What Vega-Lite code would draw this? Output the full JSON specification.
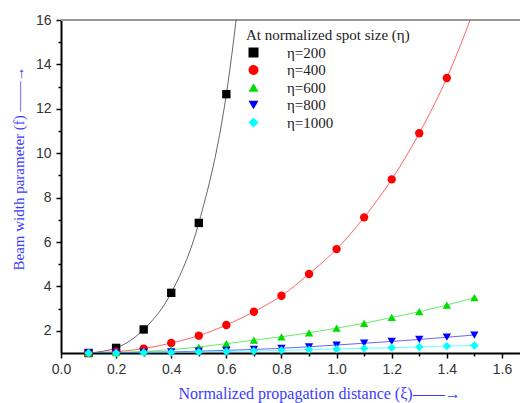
{
  "$schema": "https://vega.github.io/schema/vega-lite/v6.json",
  "autosize": "none",
  "width": 459,
  "height": 333,
  "padding": {"left": 61, "top": 20, "right": 0, "bottom": 50},
  "background": "white",
  "config": {
    "view": {"stroke": null},
    "axis": {"grid": false}
  },
  "data": {
    "values": [
      {"x": 0.1, "f": 1.0, "eta": "η=200"},
      {"x": 0.2, "f": 1.23, "eta": "η=200"},
      {"x": 0.3, "f": 2.06, "eta": "η=200"},
      {"x": 0.4, "f": 3.71, "eta": "η=200"},
      {"x": 0.5, "f": 6.86, "eta": "η=200"},
      {"x": 0.6, "f": 12.66, "eta": "η=200"},
      {"x": 0.7, "f": 23.4, "eta": "η=200"},
      {"x": 0.1, "f": 1.0, "eta": "η=400"},
      {"x": 0.2, "f": 1.06, "eta": "η=400"},
      {"x": 0.3, "f": 1.2, "eta": "η=400"},
      {"x": 0.4, "f": 1.45, "eta": "η=400"},
      {"x": 0.5, "f": 1.78, "eta": "η=400"},
      {"x": 0.6, "f": 2.26, "eta": "η=400"},
      {"x": 0.7, "f": 2.86, "eta": "η=400"},
      {"x": 0.8, "f": 3.58, "eta": "η=400"},
      {"x": 0.9, "f": 4.56, "eta": "η=400"},
      {"x": 1.0, "f": 5.68, "eta": "η=400"},
      {"x": 1.1, "f": 7.11, "eta": "η=400"},
      {"x": 1.2, "f": 8.82, "eta": "η=400"},
      {"x": 1.3, "f": 10.9, "eta": "η=400"},
      {"x": 1.4, "f": 13.39, "eta": "η=400"},
      {"x": 1.5, "f": 16.5, "eta": "η=400"},
      {"x": 0.1, "f": 1.0, "eta": "η=600"},
      {"x": 0.2, "f": 1.02, "eta": "η=600"},
      {"x": 0.3, "f": 1.07, "eta": "η=600"},
      {"x": 0.4, "f": 1.15, "eta": "η=600"},
      {"x": 0.5, "f": 1.27, "eta": "η=600"},
      {"x": 0.6, "f": 1.42, "eta": "η=600"},
      {"x": 0.7, "f": 1.58, "eta": "η=600"},
      {"x": 0.8, "f": 1.73, "eta": "η=600"},
      {"x": 0.9, "f": 1.91, "eta": "η=600"},
      {"x": 1.0, "f": 2.12, "eta": "η=600"},
      {"x": 1.1, "f": 2.34, "eta": "η=600"},
      {"x": 1.2, "f": 2.6, "eta": "η=600"},
      {"x": 1.3, "f": 2.86, "eta": "η=600"},
      {"x": 1.4, "f": 3.16, "eta": "η=600"},
      {"x": 1.5, "f": 3.49, "eta": "η=600"},
      {"x": 0.1, "f": 1.0, "eta": "η=800"},
      {"x": 0.2, "f": 1.01, "eta": "η=800"},
      {"x": 0.3, "f": 1.03, "eta": "η=800"},
      {"x": 0.4, "f": 1.05, "eta": "η=800"},
      {"x": 0.5, "f": 1.08, "eta": "η=800"},
      {"x": 0.6, "f": 1.12, "eta": "η=800"},
      {"x": 0.7, "f": 1.16, "eta": "η=800"},
      {"x": 0.8, "f": 1.21, "eta": "η=800"},
      {"x": 0.9, "f": 1.28, "eta": "η=800"},
      {"x": 1.0, "f": 1.36, "eta": "η=800"},
      {"x": 1.1, "f": 1.44, "eta": "η=800"},
      {"x": 1.2, "f": 1.52, "eta": "η=800"},
      {"x": 1.3, "f": 1.61, "eta": "η=800"},
      {"x": 1.4, "f": 1.71, "eta": "η=800"},
      {"x": 1.5, "f": 1.81, "eta": "η=800"},
      {"x": 0.1, "f": 1.0, "eta": "η=1000"},
      {"x": 0.2, "f": 1.0, "eta": "η=1000"},
      {"x": 0.3, "f": 1.02, "eta": "η=1000"},
      {"x": 0.4, "f": 1.03, "eta": "η=1000"},
      {"x": 0.5, "f": 1.05, "eta": "η=1000"},
      {"x": 0.6, "f": 1.07, "eta": "η=1000"},
      {"x": 0.7, "f": 1.09, "eta": "η=1000"},
      {"x": 0.8, "f": 1.12, "eta": "η=1000"},
      {"x": 0.9, "f": 1.15, "eta": "η=1000"},
      {"x": 1.0, "f": 1.18, "eta": "η=1000"},
      {"x": 1.1, "f": 1.21, "eta": "η=1000"},
      {"x": 1.2, "f": 1.24, "eta": "η=1000"},
      {"x": 1.3, "f": 1.27, "eta": "η=1000"},
      {"x": 1.4, "f": 1.31, "eta": "η=1000"},
      {"x": 1.5, "f": 1.34, "eta": "η=1000"}
    ]
  },
  "encoding": {
    "x": {
      "field": "x",
      "type": "quantitative",
      "scale": {"domain": [0, 1.6655], "nice": false, "zero": false},
      "axis": {
        "title": "Normalized propagation distance (ξ)——→",
        "titleFont": "Liberation Serif",
        "titleFontSize": 16,
        "titleFontWeight": "normal",
        "titleColor": "#3b3bff",
        "titleAlign": "left",
        "titleAnchor": null,
        "titleX": 117,
        "titleY": 40,
        "titleBaseline": "middle",
        "values": [0, 0.1, 0.2, 0.3, 0.4, 0.5, 0.6, 0.7, 0.8, 0.9, 1.0, 1.1, 1.2, 1.3, 1.4, 1.5, 1.6],
        "labelExpr": "abs(datum.value*5 - round(datum.value*5)) < 0.01 ? format(datum.value, '.1f') : ''",
        "labelFlush": false,
        "labelOverlap": false,
        "labelFont": "Liberation Sans",
        "labelFontSize": 14,
        "labelColor": "#333333",
        "labelPadding": 4,
        "domainColor": "#000000",
        "domainWidth": 2,
        "tickColor": "#000000",
        "tickWidth": 1.5,
        "tickSize": {"condition": {"test": "abs(datum.value*5 - round(datum.value*5)) < 0.01", "value": 5}, "value": 3}
      }
    },
    "y": {
      "field": "f",
      "type": "quantitative",
      "scale": {"domain": [1, 16], "nice": false, "zero": false},
      "axis": {
        "title": "Beam width parameter (f)  ——→",
        "titleFont": "Liberation Serif",
        "titleFontSize": 15,
        "titleFontWeight": "normal",
        "titleColor": "#3b3bff",
        "titleAlign": "left",
        "titleAnchor": null,
        "titleAngle": 270,
        "titleX": -43,
        "titleY": 250,
        "titleBaseline": "middle",
        "values": [2, 3, 4, 5, 6, 7, 8, 9, 10, 11, 12, 13, 14, 15, 16],
        "labelExpr": "datum.value % 2 == 0 ? datum.label : ''",
        "labelOverlap": false,
        "labelFont": "Liberation Sans",
        "labelFontSize": 14,
        "labelColor": "#333333",
        "labelPadding": 5,
        "domainColor": "#000000",
        "domainWidth": 2,
        "tickColor": "#000000",
        "tickWidth": 1.5,
        "tickSize": {"condition": {"test": "datum.value % 2 == 0", "value": 5}, "value": 3}
      }
    }
  },
  "layer": [
    {
      "mark": {"type": "rule", "color": "#999999", "strokeWidth": 1.5},
      "encoding": {"x": null, "y": {"datum": 16}}
    },
    {
      "mark": {"type": "line", "strokeWidth": 1, "opacity": 0.6, "interpolate": "monotone", "clip": true},
      "encoding": {
        "stroke": {
          "field": "eta",
          "type": "nominal",
          "scale": {"domain": ["η=1000", "η=800", "η=600", "η=400", "η=200"], "range": ["#00ffff", "#0000ff", "#00dd00", "#ff0000", "#000000"]},
          "legend": null
        }
      }
    },
    {
      "transform": [{"filter": "datum.f <= 16"}],
      "mark": {"type": "point", "filled": true, "opacity": 1, "size": 70, "strokeWidth": 0},
      "encoding": {
        "color": {
          "field": "eta",
          "type": "nominal",
          "scale": {"domain": ["η=200", "η=400", "η=600", "η=800", "η=1000"], "range": ["#000000", "#ff0000", "#00dd00", "#0000ff", "#00ffff"]},
          "legend": {
            "title": "At normalized spot size (η)",
            "orient": "none",
            "legendX": 185,
            "legendY": 8,
            "padding": 0,
            "symbolSize": 100,
            "titleFont": "Liberation Serif",
            "titleFontSize": 15,
            "titleFontWeight": "normal",
            "titleColor": "#222222",
            "titlePadding": 2,
            "labelFont": "Liberation Serif",
            "labelFontSize": 15,
            "labelColor": "#222222",
            "labelOffset": 26,
            "rowPadding": 1.5,
            "encode": {
              "symbols": {
                "update": {
                  "shape": {
                    "condition": [
                      {"test": "datum.value === 'η=200'", "value": "M-1.1,0H5.3M1.3,-0.8H2.9V0.8H1.3Z"},
                      {"test": "datum.value === 'η=400'", "value": "M-1.1,0H5.3M2.95,0A0.85,0.85 0 1,1 1.25,0A0.85,0.85 0 1,1 2.95,0Z"},
                      {"test": "datum.value === 'η=600'", "value": "M-1.1,0H5.3M2.1,-0.95L3.1,0.75L1.1,0.75Z"},
                      {"test": "datum.value === 'η=800'", "value": "M-1.1,0H5.3M2.1,0.95L3.1,-0.75L1.1,-0.75Z"}
                    ],
                    "value": "M-1.1,0H5.3M2.1,-1L3.1,0L2.1,1L1.1,0Z"
                  },
                  "stroke": {
                    "condition": [
                      {"test": "datum.value === 'η=200'", "value": "#000000"},
                      {"test": "datum.value === 'η=400'", "value": "#ff0000"},
                      {"test": "datum.value === 'η=600'", "value": "#00dd00"},
                      {"test": "datum.value === 'η=800'", "value": "#0000ff"}
                    ],
                    "value": "#00ffff"
                  },
                  "strokeWidth": {"value": 1},
                  "size": {"value": 100}
                }
              }
            }
          }
        },
        "shape": {
          "field": "eta",
          "type": "nominal",
          "scale": {"domain": ["η=200", "η=400", "η=600", "η=800", "η=1000"], "range": ["square", "circle", "triangle-up", "triangle-down", "diamond"]},
          "legend": {
            "title": "At normalized spot size (η)",
            "orient": "none",
            "legendX": 185,
            "legendY": 8,
            "padding": 0,
            "symbolSize": 100,
            "titleFont": "Liberation Serif",
            "titleFontSize": 15,
            "titleFontWeight": "normal",
            "titleColor": "#222222",
            "titlePadding": 2,
            "labelFont": "Liberation Serif",
            "labelFontSize": 15,
            "labelColor": "#222222",
            "labelOffset": 26,
            "rowPadding": 1.5,
            "encode": {
              "symbols": {
                "update": {
                  "shape": {
                    "condition": [
                      {"test": "datum.value === 'η=200'", "value": "M-1.1,0H5.3M1.3,-0.8H2.9V0.8H1.3Z"},
                      {"test": "datum.value === 'η=400'", "value": "M-1.1,0H5.3M2.95,0A0.85,0.85 0 1,1 1.25,0A0.85,0.85 0 1,1 2.95,0Z"},
                      {"test": "datum.value === 'η=600'", "value": "M-1.1,0H5.3M2.1,-0.95L3.1,0.75L1.1,0.75Z"},
                      {"test": "datum.value === 'η=800'", "value": "M-1.1,0H5.3M2.1,0.95L3.1,-0.75L1.1,-0.75Z"}
                    ],
                    "value": "M-1.1,0H5.3M2.1,-1L3.1,0L2.1,1L1.1,0Z"
                  },
                  "stroke": {
                    "condition": [
                      {"test": "datum.value === 'η=200'", "value": "#000000"},
                      {"test": "datum.value === 'η=400'", "value": "#ff0000"},
                      {"test": "datum.value === 'η=600'", "value": "#00dd00"},
                      {"test": "datum.value === 'η=800'", "value": "#0000ff"}
                    ],
                    "value": "#00ffff"
                  },
                  "strokeWidth": {"value": 1},
                  "size": {"value": 100}
                }
              }
            }
          }
        }
      }
    }
  ]
}
